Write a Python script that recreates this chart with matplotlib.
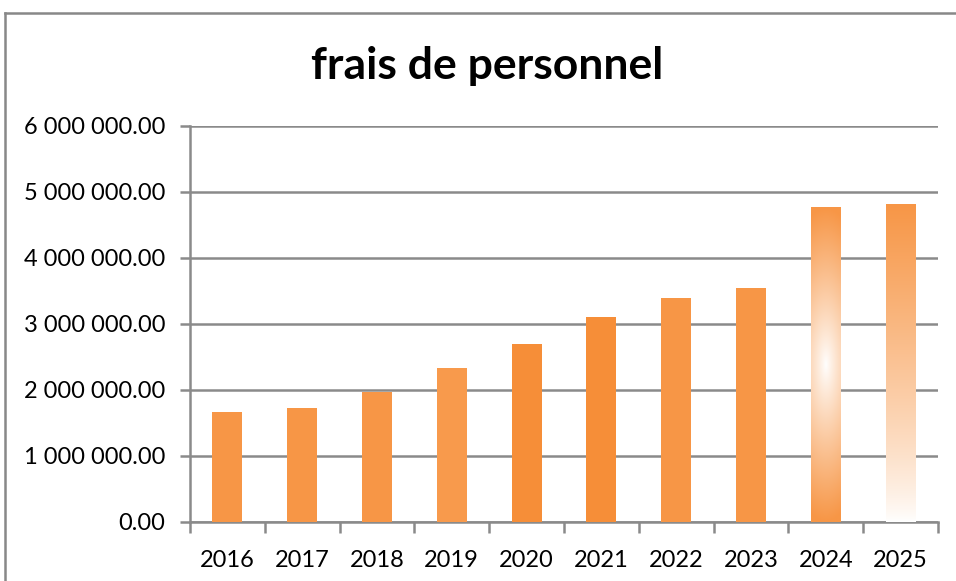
import numpy as np
import matplotlib
matplotlib.use("Agg")
import matplotlib.pyplot as plt
from matplotlib.colors import to_rgb
from matplotlib.lines import Line2D
from matplotlib.ticker import FuncFormatter

years = ["2016", "2017", "2018", "2019", "2020", "2021", "2022", "2023", "2024", "2025"]
frais = [1665000, 1725000, 1970000, 2330000, 2700000, 3110000, 3390000, 3545000, 4770000, 4820000]
bar_colors = ["#F79646", "#F79646", "#F79646", "#F89A4C", "#F68E38",
              "#F68E38", "#F79646", "#F79646", "#F79646", "#F79646"]

plt.rcParams["font.family"] = ["Lato", "DejaVu Sans"]

fig = plt.figure(figsize=(9.56, 5.81), dpi=100)
ax = fig.add_axes([190 / 956, 1 - 522 / 581, 748 / 956, 396 / 581])

x = np.arange(len(years))
bars = ax.bar(x, frais, width=0.4, color=bar_colors, zorder=3)

# gradient fills for the last two bars
orange = np.array(to_rgb("#F79646"))
white = np.ones(3)


def fill_gradient(patch, weights):
    # weights: 2D array, 1 = orange, 0 = white
    img = white + (orange - white) * weights[..., None]
    x0, y0 = patch.get_x(), patch.get_y()
    w, h = patch.get_width(), patch.get_height()
    im = ax.imshow(img, extent=[x0, x0 + w, y0, y0 + h], aspect="auto",
                   origin="lower", zorder=3, interpolation="bilinear")
    im.set_clip_path(patch)
    patch.set_facecolor("none")


ny, nx = 200, 40
yy, xx = np.mgrid[0:1:ny * 1j, 0:1:nx * 1j]
# 2024: white spot around the middle, orange at both ends
r = np.sqrt(((yy - 0.5) / 0.5) ** 2 + ((xx - 0.5) / 1.6) ** 2)
fill_gradient(bars[8], np.clip(r, 0, 1) ** 0.9)
# 2025: orange at the top fading to white at the bottom
fill_gradient(bars[9], yy ** 0.8)

ax.set_xlim(-0.5, len(years) - 0.5)
ax.set_ylim(0, 6000000)
ax.set_yticks(np.arange(0, 6000001, 1000000))
ax.yaxis.set_major_formatter(FuncFormatter(
    lambda v, p: f"{v:,.2f}".replace(",", " ")))
ax.set_xticks(x)
ax.set_xticklabels(years)
ax.set_xticks(np.arange(-0.5, len(years)), minor=True)

grid_col = "#8A8A8A"
ax.grid(axis="y", color=grid_col, linewidth=1.8, zorder=1)
for side in ["top", "right"]:
    ax.spines[side].set_visible(False)
for side in ["left", "bottom"]:
    ax.spines[side].set_color(grid_col)
    ax.spines[side].set_linewidth(1.8)

ax.tick_params(axis="y", length=7, width=1.8, color=grid_col, labelsize=17, pad=11)
ax.tick_params(axis="x", which="major", length=0, labelsize=17, pad=20)
ax.tick_params(axis="x", which="minor", length=8, width=1.8, color=grid_col)

fig.text(487 / 956, 1 - 66 / 581, "frais de personnel", ha="center", va="center",
         fontsize=32, fontweight="bold")

# chart area border (partially visible)
fig.add_artist(Line2D([5 / 956, 1], [1 - 13 / 581, 1 - 13 / 581],
                      color="#888888", linewidth=1.8, transform=fig.transFigure))
fig.add_artist(Line2D([5 / 956, 5 / 956], [0, 1 - 13 / 581],
                      color="#888888", linewidth=1.8, transform=fig.transFigure))

fig.savefig("out.png", dpi=100)
